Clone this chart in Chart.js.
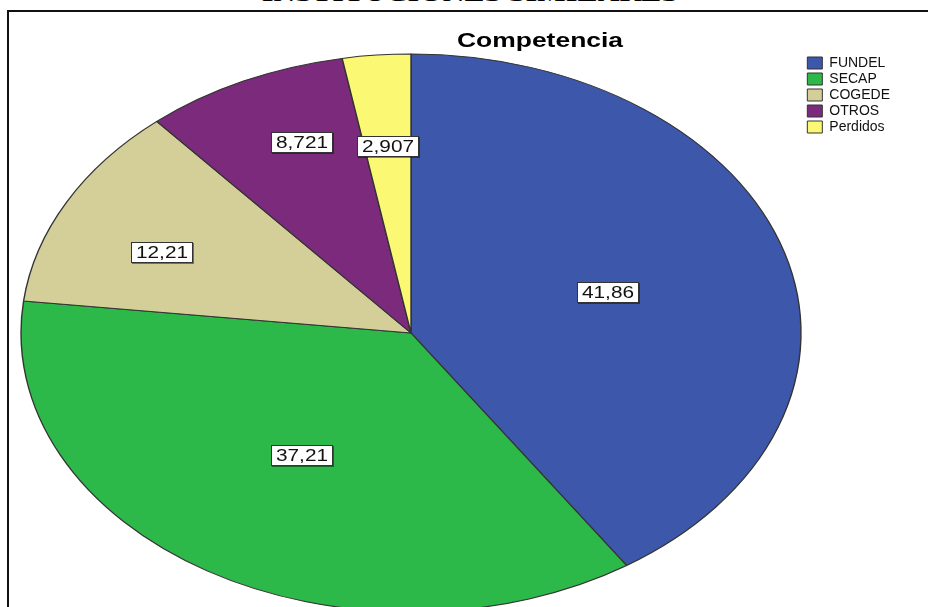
<!DOCTYPE html>
<html lang="es">
<head>
  <meta charset="UTF-8">
  <title>Competencia</title>
  <script src="https://cdn.jsdelivr.net/npm/chart.js"></script>
  <style>
    html, body {
      margin: 0;
      padding: 0;
      background: #fff;
      overflow: hidden;
    }
    body {
      width: 928px;
      height: 607px;
      position: relative;
    }
    #heading {
      position: absolute;
      left: 0;
      top: -17px;
      width: 940px;
      text-align: center;
      font: bold 22px/22px "Liberation Serif", "Times New Roman", serif;
      color: #000;
      white-space: nowrap;
    }
    #heading span {
      display: inline-block;
      transform: scaleX(1.37);
    }
    #frame {
      position: absolute;
      left: 7px;
      top: 10px;
      width: 960px;
      height: 640px;
      border-left: 2px solid #111;
      border-top: 2px solid #111;
    }
    #myChart {
      position: absolute;
      left: 0;
      top: 0;
    }
  </style>
</head>
<body>
  <div id="heading"><span>INSTITUCIONES SIMILARES</span></div>
  <div id="frame"></div>
  <canvas id="myChart" width="928" height="607"></canvas>
<script>
  // data
  const categories = ['FUNDEL', 'SECAP', 'COGEDE', 'OTROS', 'Perdidos'];
  const percentages = [41.86, 37.21, 12.21, 8.721, 2.907];
  const sliceColors = ['#3d57aa', '#2db84a', '#d4cf98', '#7b2a7c', '#fbf873'];
  const chartTitle = 'Competencia';

  // where each value box sits: share of the slice's sweep and fraction of the radius
  const labelAngle = [0.505, 0.507, 0.41, 0.6, 0.5];
  const labelDistance = [0.525, 0.523, 0.70, 0.737, 0.671];

  // the original pie is an ellipse, so the circle gets stretched sideways
  const CX = 411, CY = 333, RX = 390, RY = 279;
  const stretch = RX / RY;
  const SANS = "'Liberation Sans', Arial, sans-serif";

  const ellipsePlugin = {
    id: 'ellipse',
    beforeDatasetsDraw(chart) {
      let arc = chart.getDatasetMeta(0).data[0];
      let ctx = chart.ctx;
      ctx.save();
      ctx.translate(CX, CY);
      ctx.scale(stretch, 1);
      ctx.translate(-arc.x, -arc.y);
    },
    afterDatasetsDraw(chart) {
      chart.ctx.restore();
    }
  };

  function stretchedText(ctx, text, x, y, sx) {
    ctx.save();
    ctx.translate(x, y);
    ctx.scale(sx, 1);
    ctx.fillText(text, 0, 0);
    ctx.restore();
  }

  const valueBoxPlugin = {
    id: 'valueBoxes',
    afterDraw(chart) {
      let ctx = chart.ctx;
      let arcs = chart.getDatasetMeta(0).data;

      // title
      ctx.save();
      ctx.fillStyle = '#000';
      ctx.font = 'bold 21px ' + SANS;
      ctx.textAlign = 'center';
      ctx.textBaseline = 'alphabetic';
      stretchedText(ctx, chartTitle, 540, 47, 1.26);
      ctx.restore();

      // value boxes
      ctx.save();
      ctx.font = '16px ' + SANS;
      ctx.textAlign = 'center';
      ctx.textBaseline = 'middle';
      arcs.forEach((arc, i) => {
        let text = percentages[i].toLocaleString('es-ES', { maximumFractionDigits: 3 });
        let ang = arc.startAngle + (arc.endAngle - arc.startAngle) * labelAngle[i];
        let r = arc.outerRadius * labelDistance[i];
        let x = Math.round(CX + Math.cos(ang) * r * stretch);
        let y = Math.round(CY + Math.sin(ang) * r);
        let w = Math.round(ctx.measureText(text).width * 1.3 + 10);
        let h = 21;
        let left = x - Math.round(w / 2);
        let top = y - Math.round(h / 2);
        ctx.fillStyle = 'rgba(0,0,0,0.45)';
        ctx.fillRect(left + 1, top + 1, w, h);
        ctx.fillStyle = '#fff';
        ctx.fillRect(left, top, w, h);
        ctx.strokeStyle = '#333';
        ctx.lineWidth = 1;
        ctx.strokeRect(left + 0.5, top + 0.5, w - 1, h - 1);
        ctx.fillStyle = '#111';
        stretchedText(ctx, text, x, y + 1, 1.3);
      });
      ctx.restore();
    }
  };

  let ctx = document.getElementById('myChart').getContext('2d');
  new Chart(ctx, {
    type: 'pie',
    data: {
      labels: categories,
      datasets: [{
        data: percentages,
        backgroundColor: sliceColors,
        borderColor: '#333',
        borderWidth: 1,
        clip: false
      }]
    },
    options: {
      responsive: false,
      animation: false,
      events: [],
      radius: RY,
      layout: {
        padding: { top: 54, right: 28 }
      },
      plugins: {
        title: { display: false },
        tooltip: { enabled: false },
        legend: {
          position: 'right',
          align: 'start',
          labels: {
            boxWidth: 15,
            boxHeight: 12,
            padding: 2,
            color: '#111',
            font: { family: SANS, size: 14 }
          }
        }
      }
    },
    plugins: [ellipsePlugin, valueBoxPlugin]
  });
</script>
</body>
</html>
